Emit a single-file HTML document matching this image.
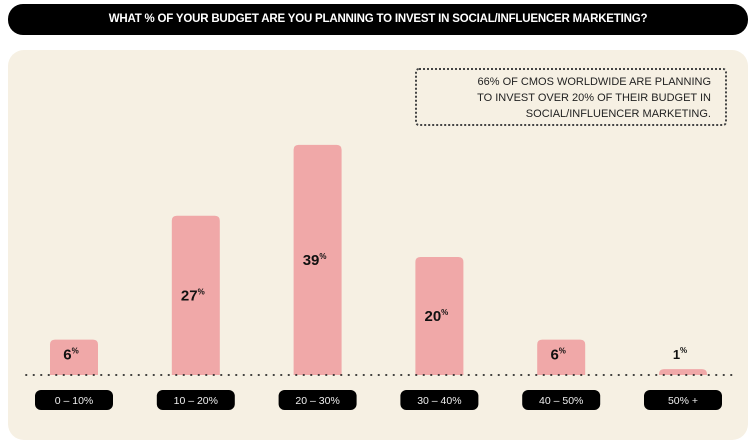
<!DOCTYPE html>
<html><head><meta charset="utf-8"><style>
body{margin:0;width:756px;height:444px;background:#fff;font-family:"Liberation Sans",sans-serif;overflow:hidden;position:relative}
#hdr{position:absolute;left:8px;top:4px;width:740px;height:31px;background:#000;border-radius:15px;color:#fff;font-weight:bold;font-size:11.5px;text-align:center;line-height:31px;letter-spacing:-0.2px}
#panel{position:absolute;left:8px;top:50px;width:740px;height:390px;background:#f6f0e3;border-radius:16px}
#callout{position:absolute;left:415px;top:68px;width:312px;height:58px;border:2px dotted #444;border-radius:4px;font-size:11px;color:#222;text-align:right;padding:4px 14px 0 0;box-sizing:border-box;line-height:16px}
svg{position:absolute;left:0;top:0}
</style></head><body>
<div id="hdr">WHAT % OF YOUR BUDGET ARE YOU PLANNING TO INVEST IN SOCIAL/INFLUENCER MARKETING?</div>
<div id="panel"></div>
<div id="callout">66% OF CMOS WORLDWIDE ARE PLANNING<br>TO INVEST OVER 20% OF THEIR BUDGET IN<br>SOCIAL/INFLUENCER MARKETING.</div>
<svg id="chart" width="756" height="444"></svg>
<script>
const categories=["0 – 10%","10 – 20%","20 – 30%","30 – 40%","40 – 50%","50% +"];
const values=[6,27,39,20,6,1];
const NS="http://www.w3.org/2000/svg";
const svg=document.getElementById('chart');
const base=375, pxPer=5.9, x0=74, step=121.8, bw=48;
function xc(i){return x0+i*step;}
function yv(v){return base-v*pxPer;}
function mk(t,a){const e=document.createElementNS(NS,t);for(const k in a)e.setAttribute(k,a[k]);svg.appendChild(e);return e;}
values.forEach((v,i)=>{
  const cx=xc(i),top=yv(v);
  const r=mk('path',{d:`M${cx-bw/2},${base}V${top+5}Q${cx-bw/2},${top} ${cx-bw/2+5},${top}H${cx+bw/2-5}Q${cx+bw/2},${top} ${cx+bw/2},${top+5}V${base}Z`,fill:'#f0a8a8'});
  
  
  const h=base-top;
  const ly=h<12?top-10:(h<50?top+20:top+h/2+5);
  const t=mk('text',{x:cx-3,y:ly,'text-anchor':'middle','font-size':(h<12?13:15),'font-weight':'bold',fill:'#111'});
  t.textContent=v;
  const s=document.createElementNS(NS,'tspan');s.setAttribute('font-size','8');s.setAttribute('dy','-6');s.textContent='%';t.appendChild(s);
  
  
  const p=mk('rect',{x:cx-39,y:390,width:78,height:20,rx:6,fill:'#000'});
  
  
  const c=mk('text',{x:cx,y:404,'text-anchor':'middle','font-size':10.5,fill:'#eee'});
  c.textContent=categories[i];
  
  
});
const bl=mk('line',{x1:26,x2:734,y1:base,y2:base,stroke:'#222','stroke-width':1.8,'stroke-dasharray':'0.5 7','stroke-linecap':'round'});


</script>
</body></html>
